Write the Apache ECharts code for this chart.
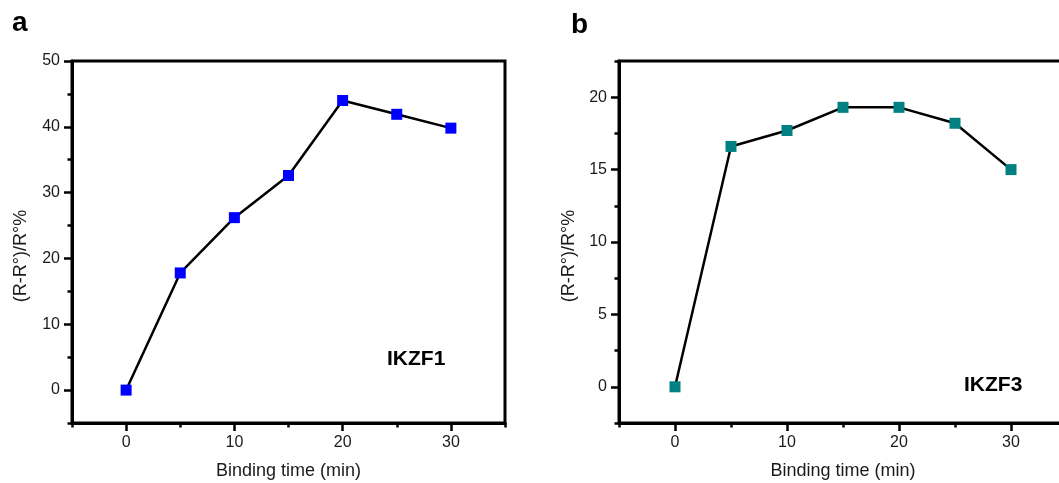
<!DOCTYPE html>
<html>
<head>
<meta charset="utf-8">
<script src="https://cdn.jsdelivr.net/npm/echarts@6/dist/echarts.min.js"></script>
<style>
html,body{margin:0;padding:0;background:#fff;}
#chart{width:1059px;height:483px;}
</style>
</head>
<body>
<div id="chart"></div>
<script>
// ---- data ----
const times = [0, 5, 10, 15, 20, 25, 30];
const ikzf1 = [0, 17.8, 26.2, 32.6, 44.0, 41.9, 39.8];
const ikzf3 = [0, 16.6, 17.7, 19.3, 19.3, 18.2, 15.0];
const xMajorTicks = [0, 10, 20, 30];
const xMinorTicks = [-5, 5, 15, 25, 35];
const yMajorA = [0, 10, 20, 30, 40, 50];
const yMinorA = [-5, 5, 15, 25, 35, 45];
const yMajorB = [0, 5, 10, 15, 20];
const yMinorB = [-2.5, 2.5, 7.5, 12.5, 17.5, 22.5];
const xTitle = 'Binding time (min)';
const yTitle = '(R-R°)/R°%';
const labelA = 'IKZF1';
const labelB = 'IKZF3';

const FONT = '"Liberation Sans", Arial, sans-serif';
const TXT = '#1a1a1a';

function xAxes(grid, mn, mx) {
  return [
    {
      type: 'value', gridIndex: grid, position: 'bottom', min: mn, max: mx,
      axisLine: { show: true, onZero: false, lineStyle: { color: '#000', width: 3 } },
      axisTick: { show: true, customValues: xMajorTicks, length: 8, lineStyle: { color: '#000', width: 2.5 } },
      axisLabel: { show: true, customValues: xMajorTicks, margin: 12, fontSize: 16, color: TXT, fontFamily: FONT },
      splitLine: { show: false },
      name: xTitle, nameLocation: 'middle', nameGap: 39,
      nameTextStyle: { fontSize: 18, color: TXT, fontFamily: FONT }
    },
    {
      type: 'value', gridIndex: grid, position: 'bottom', min: mn, max: mx,
      axisLine: { show: false, onZero: false },
      axisTick: { show: true, customValues: xMinorTicks, length: 4.5, lineStyle: { color: '#000', width: 2.5 } },
      axisLabel: { show: false },
      splitLine: { show: false }
    }
  ];
}
function yAxes(grid, mn, mx, major, minor) {
  return [
    {
      type: 'value', gridIndex: grid, position: 'left', min: mn, max: mx,
      axisLine: { show: true, onZero: false, lineStyle: { color: '#000', width: 3 } },
      axisTick: { show: true, customValues: major, length: 8, lineStyle: { color: '#000', width: 2.5 } },
      axisLabel: { show: true, customValues: major, margin: 12, fontSize: 16, color: TXT, fontFamily: FONT },
      splitLine: { show: false }
    },
    {
      type: 'value', gridIndex: grid, position: 'left', min: mn, max: mx,
      axisLine: { show: false, onZero: false },
      axisTick: { show: true, customValues: minor, length: 4.5, lineStyle: { color: '#000', width: 2.5 } },
      axisLabel: { show: false },
      splitLine: { show: false }
    }
  ];
}

const chart = echarts.init(document.getElementById('chart'));
chart.setOption({
  backgroundColor: '#fff',
  animation: false,
  grid: [
    { left: 72, top: 61, width: 433, height: 362, containLabel: false, outerBoundsMode: 'none', show: true, borderColor: '#000', borderWidth: 3, backgroundColor: 'transparent' },
    { left: 619, top: 61, width: 448, height: 362, containLabel: false, outerBoundsMode: 'none', show: true, borderColor: '#000', borderWidth: 3, backgroundColor: 'transparent' }
  ],
  xAxis: [].concat(xAxes(0, -5, 35), xAxes(1, -5, 35)),
  yAxis: [].concat(yAxes(0, -5, 50, yMajorA, yMinorA), yAxes(1, -2.5, 22.5, yMajorB, yMinorB)),
  series: [
    {
      type: 'line', xAxisIndex: 0, yAxisIndex: 0,
      data: times.map((t, i) => [t, ikzf1[i]]),
      symbol: 'rect', symbolSize: 11,
      lineStyle: { color: '#000', width: 2.5 },
      itemStyle: { color: '#0000ff' }
    },
    {
      type: 'line', xAxisIndex: 2, yAxisIndex: 2,
      data: times.map((t, i) => [t, ikzf3[i]]),
      symbol: 'rect', symbolSize: 11,
      lineStyle: { color: '#000', width: 2.5 },
      itemStyle: { color: '#008080' }
    }
  ],
  graphic: [
    { type: 'text', x: 12, y: 23, style: { text: 'a', font: 'bold 28px ' + FONT, fill: '#000', textVerticalAlign: 'middle' } },
    { type: 'text', x: 571, y: 25, style: { text: 'b', font: 'bold 28px ' + FONT, fill: '#000', textVerticalAlign: 'middle' } },
    { type: 'text', x: 387, y: 359, style: { text: labelA, font: 'bold 21px ' + FONT, fill: '#000', textVerticalAlign: 'middle' } },
    { type: 'text', x: 964, y: 385, style: { text: labelB, font: 'bold 21px ' + FONT, fill: '#000', textVerticalAlign: 'middle' } },
    { type: 'text', x: 21, y: 256, rotation: Math.PI / 2, style: { text: yTitle, font: '18px ' + FONT, fill: TXT, textAlign: 'center', textVerticalAlign: 'middle' } },
    { type: 'text', x: 569, y: 256, rotation: Math.PI / 2, style: { text: yTitle, font: '18px ' + FONT, fill: TXT, textAlign: 'center', textVerticalAlign: 'middle' } }
  ]
});
</script>
</body>
</html>
